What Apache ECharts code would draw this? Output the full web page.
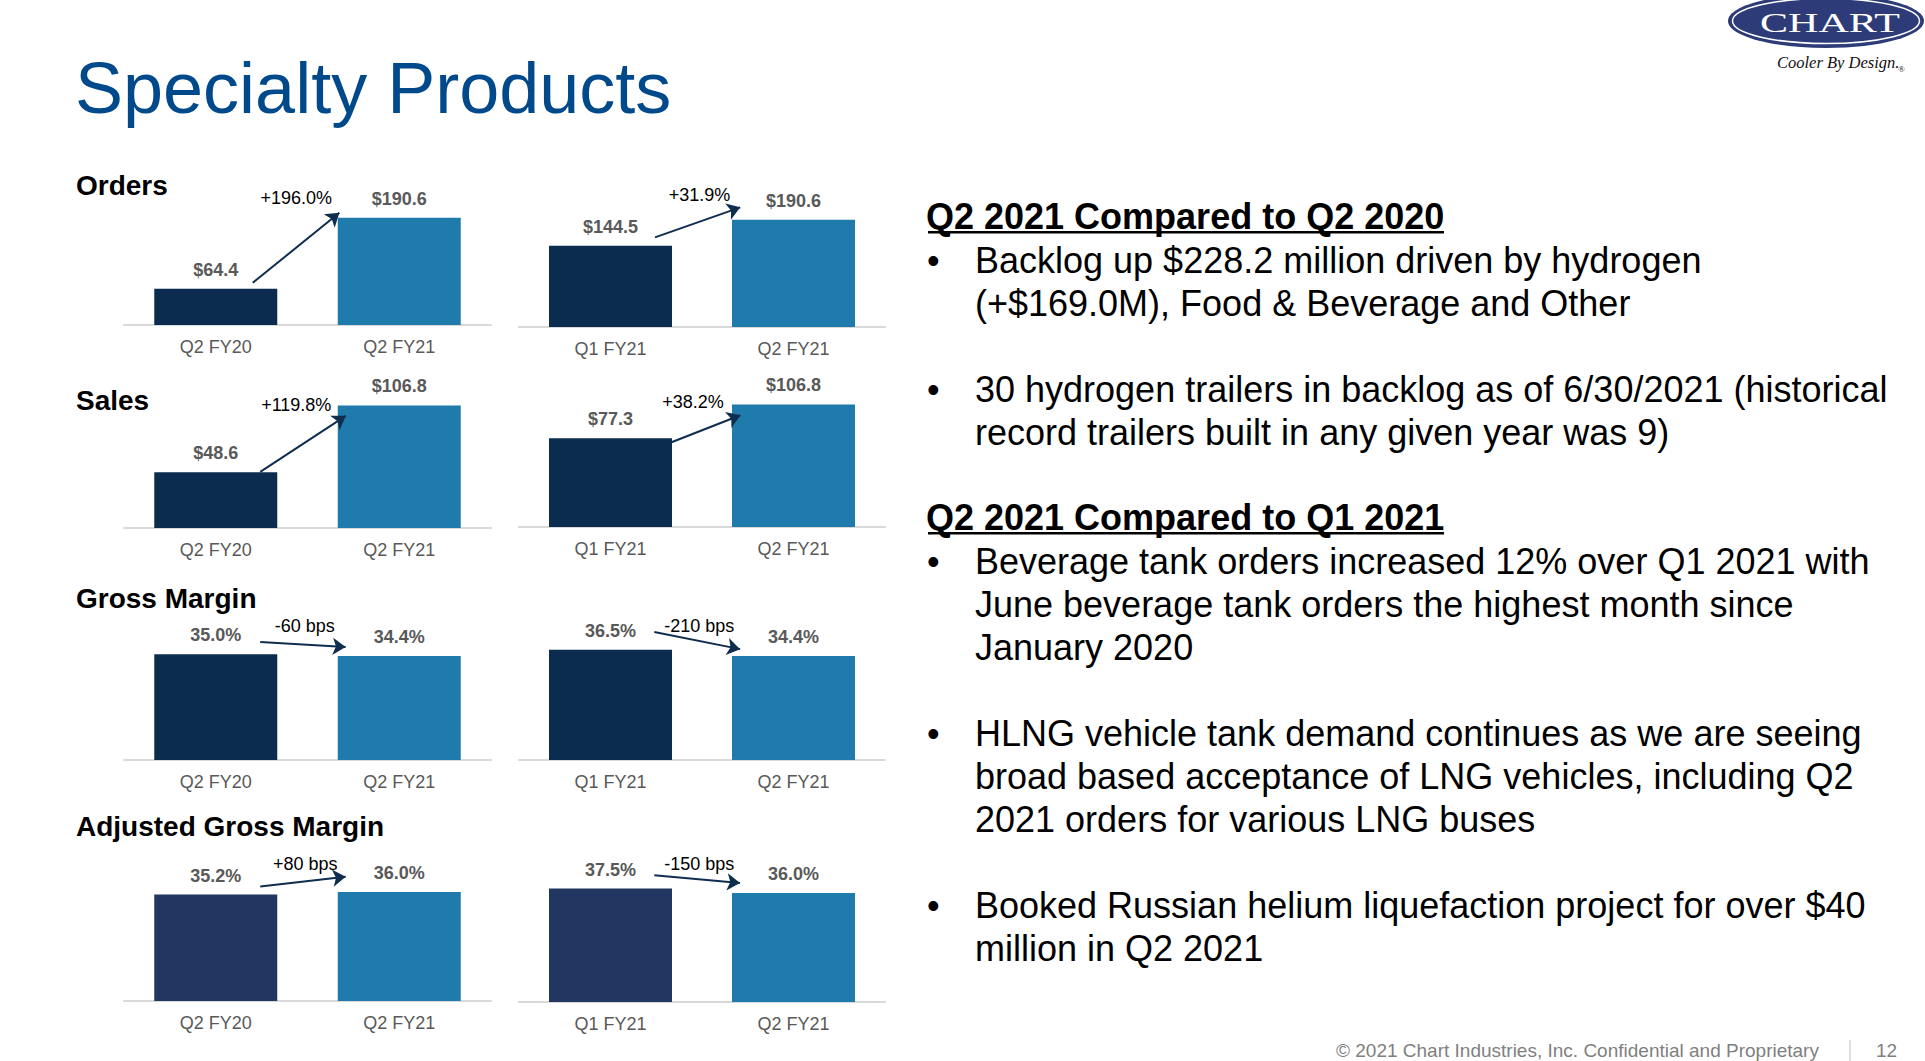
<!DOCTYPE html>
<html>
<head>
<meta charset="utf-8">
<script src="https://cdn.jsdelivr.net/npm/echarts@6/dist/echarts.min.js"></script>
<style>
html,body{margin:0;padding:0;background:#ffffff;}
#chart{width:1925px;height:1061px;}
</style>
</head>
<body>
<div id="chart"></div>
<script>
// ---------------- DATA ----------------
const categoriesYoY = ['Q2 FY20', 'Q2 FY21'];
const categoriesQoQ = ['Q1 FY21', 'Q2 FY21'];
const ordersYoY = [64.4, 190.6];
const ordersQoQ = [144.5, 190.6];
const salesYoY = [48.6, 106.8];
const salesQoQ = [77.3, 106.8];
const grossMarginYoY = [35.0, 34.4];
const grossMarginQoQ = [36.5, 34.4];
const adjGrossMarginYoY = [35.2, 36.0];
const adjGrossMarginQoQ = [37.5, 36.0];
const changeLabels = ['+196.0%', '+31.9%', '+119.8%', '+38.2%', '-60 bps', '-210 bps', '+80 bps', '-150 bps'];
const sectionTitles = ['Orders', 'Sales', 'Gross Margin', 'Adjusted Gross Margin'];
const pageTitle = 'Specialty Products';
const commentary = [
  ['h', 'Q2 2021 Compared to Q2 2020'],
  ['b', 'Backlog up $228.2 million driven by hydrogen'],
  ['c', '(+$169.0M), Food & Beverage and Other'],
  ['b', '30 hydrogen trailers in backlog as of 6/30/2021 (historical'],
  ['c', 'record trailers built in any given year was 9)'],
  ['h', 'Q2 2021 Compared to Q1 2021'],
  ['b', 'Beverage tank orders increased 12% over Q1 2021 with'],
  ['c', 'June beverage tank orders the highest month since'],
  ['c', 'January 2020'],
  ['b', 'HLNG vehicle tank demand continues as we are seeing'],
  ['c', 'broad based acceptance of LNG vehicles, including Q2'],
  ['c', '2021 orders for various LNG buses'],
  ['b', 'Booked Russian helium liquefaction project for over $40'],
  ['c', 'million in Q2 2021']
];
const footerText = '\u00A9 2021 Chart Industries, Inc. Confidential and Proprietary';
const pageNumber = '12';

// ---------------- LAYOUT / STYLE ----------------
const SANS = "'Liberation Sans', Arial, Helvetica, sans-serif";
const SERIF = "'Liberation Serif', 'Times New Roman', serif";
const DARK = '#0b2c4f', LIGHT = '#1f7bac', ADJ_DARK = '#213761', ARROW = '#0e2d4f';
// arrow layout in px offsets: [startDx from left bar centre, startDy above left bar top,
//   endDx from right bar centre, endDy above right bar top, labelDx, labelDy (rel. right bar)]
const panels = [
  {cats: categoriesYoY, vals: ordersYoY, fmt: 'money', chg: changeLabels[0], left: 124, width: 367, axisY: 325, max: 250, scale: 0.563, dark: DARK, arrow: [37, 6, -56, 8, -103, 20]},
  {cats: categoriesQoQ, vals: ordersQoQ, fmt: 'money', chg: changeLabels[1], left: 519, width: 366, axisY: 327, max: 250, scale: 0.563, dark: DARK, arrow: [44.5, 8.3, -48.5, 14, -94, 25]},
  {cats: categoriesYoY, vals: salesYoY, fmt: 'money', chg: changeLabels[2], left: 124, width: 367, axisY: 528, max: 130, scale: 1.148, dark: DARK, arrow: [44.5, 0.3, -49.3, -7.7, -103, 0]},
  {cats: categoriesQoQ, vals: salesQoQ, fmt: 'money', chg: changeLabels[3], left: 519, width: 366, axisY: 527, max: 130, scale: 1.148, dark: DARK, arrow: [61, -4, -48.5, -9, -100.5, 2.6]},
  {cats: categoriesYoY, vals: grossMarginYoY, fmt: 'pct', chg: changeLabels[4], left: 124, width: 367, axisY: 760, max: 50, scale: 3.02, dark: DARK, arrow: [44.5, 12.3, -48.6, 8.7, -94.6, 30]},
  {cats: categoriesQoQ, vals: grossMarginQoQ, fmt: 'pct', chg: changeLabels[5], left: 519, width: 366, axisY: 760, max: 50, scale: 3.02, dark: DARK, arrow: [43.8, 17.7, -48.5, 6, -94.2, 30.3]},
  {cats: categoriesYoY, vals: adjGrossMarginYoY, fmt: 'pct', chg: changeLabels[6], left: 124, width: 367, axisY: 1001, max: 50, scale: 3.025, dark: ADJ_DARK, arrow: [44.5, 8, -48.6, 16, -94, 27.7]},
  {cats: categoriesQoQ, vals: adjGrossMarginQoQ, fmt: 'pct', chg: changeLabels[7], left: 519, width: 366, axisY: 1002, max: 50, scale: 3.025, dark: ADJ_DARK, arrow: [43.8, 13.3, -48.5, 9.7, -94.2, 29]}
];
const sectionTitleY = [185, 400, 598, 826];

// ---------------- BUILD OPTION ----------------
const grid = [], xAxis = [], yAxis = [], series = [];
panels.forEach((p, i) => {
  const h = p.max * p.scale;
  grid.push({left: p.left, width: p.width, top: p.axisY - h, height: h, containLabel: false});
  xAxis.push({
    type: 'category', gridIndex: i, data: p.cats, position: 'bottom',
    axisLine: {show: true, lineStyle: {color: '#d9d9d9', width: 2}},
    axisTick: {show: false},
    axisLabel: {interval: 0, margin: 13, color: '#595959', fontSize: 18, fontFamily: SANS}
  });
  xAxis.push({type: 'value', gridIndex: i, min: 0, max: 2, show: false});
  yAxis.push({type: 'value', gridIndex: i, min: 0, max: p.max, show: false, splitLine: {show: false}});

  series.push({
    type: 'bar', xAxisIndex: 2 * i, yAxisIndex: i, barWidth: 123, animation: false, silent: true,
    data: p.vals.map((v, j) => ({value: v, itemStyle: {color: j === 0 ? p.dark : LIGHT}})),
    label: {
      show: true, position: 'top', distance: 10, color: '#595959', fontSize: 18, fontWeight: 'bold', fontFamily: SANS,
      formatter: (o) => p.fmt === 'money' ? '$' + o.value.toFixed(1) : o.value.toFixed(1) + '%'
    }
  });

  // arrow + change label, anchored to the bars' values
  const band = p.width / 2;
  const [sdx, sdy, edx, edy, ldx, ldy] = p.arrow;
  const xs = 0.5 + sdx / band, ys = p.vals[0] + sdy / p.scale;
  let xe = 1.5 + edx / band, ye = p.vals[1] + edy / p.scale;
  const dxp = (xe - xs) * band, dyp = (ye - ys) * p.scale, len = Math.hypot(dxp, dyp);
  const pull = 5;
  xe -= pull * dxp / len / band; ye -= pull * dyp / len / p.scale;
  series.push({
    type: 'line', xAxisIndex: 2 * i + 1, yAxisIndex: i, data: [], animation: false, silent: true,
    markLine: {
      silent: true, animation: false, symbol: ['none', 'arrow'], symbolSize: 13,
      lineStyle: {color: ARROW, width: 2, type: 'solid'},
      itemStyle: {color: ARROW},
      label: {show: false},
      data: [[{coord: [xs, ys]}, {coord: [xe, ye]}]]
    },
    markPoint: {
      silent: true, animation: false, symbol: 'circle', symbolSize: 1,
      itemStyle: {color: 'rgba(0,0,0,0)'},
      label: {show: true, position: 'inside', formatter: '{b}', color: '#000000', fontSize: 18, fontFamily: SANS},
      data: [{name: p.chg, coord: [1.5 + ldx / band, p.vals[1] + ldy / p.scale]}]
    }
  });
});

// ---------------- STATIC TEXT (graphic) ----------------
function txt(x, y, text, st) {
  return {type: 'text', x: x, y: y, silent: true,
    style: Object.assign({text: text, fill: '#000000', fontFamily: SANS, fontSize: 36, align: 'left', verticalAlign: 'middle'}, st || {})};
}
const graphic = [];
graphic.push(txt(75, 88, pageTitle, {fontSize: 72, fill: '#004a8c'}));
sectionTitles.forEach((t, k) => graphic.push(txt(76, sectionTitleY[k], t, {fontSize: 28, fontWeight: 'bold'})));

const lineY = [216, 260, 303, 389, 432, 517, 561, 604, 647, 733, 776, 819, 905, 948];
commentary.forEach((c, k) => {
  const y = lineY[k];
  if (c[0] === 'h') {
    graphic.push(txt(926, y, c[1], {fontWeight: 'bold'}));
    graphic.push({type: 'rect', silent: true, shape: {x: 928, y: y + 15, width: 516, height: 2.5}, style: {fill: '#000000'}});
  } else {
    if (c[0] === 'b') graphic.push(txt(927, y, '\u2022', {}));
    graphic.push(txt(975, y, c[1], {}));
  }
});

// footer
graphic.push(txt(1336, 1050, footerText, {fontSize: 19, fill: '#7f7f7f'}));
graphic.push({type: 'line', silent: true, shape: {x1: 1850, y1: 1040, x2: 1850, y2: 1061}, style: {stroke: '#bfbfbf', lineWidth: 1}});
graphic.push(txt(1876, 1050, pageNumber, {fontSize: 19, fill: '#7f7f7f'}));

// logo
graphic.push({type: 'ellipse', silent: true, shape: {cx: 1826, cy: 21, rx: 98, ry: 27}, style: {fill: '#2d3c78'}});
graphic.push({type: 'ellipse', silent: true, shape: {cx: 1826, cy: 21, rx: 93.5, ry: 22.5}, style: {fill: 'none', stroke: '#ffffff', lineWidth: 1.5}});
graphic.push({type: 'text', silent: true, x: 1830, y: 23, scaleX: 1.5,
  style: {text: 'CHART', fill: '#ffffff', fontFamily: SERIF, fontSize: 28, align: 'center', verticalAlign: 'middle'}});
graphic.push(txt(1777, 62, 'Cooler By Design.', {fontFamily: SERIF, fontStyle: 'italic', fontSize: 16.5, fill: '#111111'}));
graphic.push(txt(1898, 69, '\u00AE', {fontFamily: SERIF, fontSize: 9, fill: '#111111'}));

const option = {
  backgroundColor: '#ffffff',
  animation: false,
  grid: grid, xAxis: xAxis, yAxis: yAxis, series: series,
  graphic: graphic
};
const chart = echarts.init(document.getElementById('chart'), null, {renderer: 'svg'});
chart.setOption(option);
</script>
</body>
</html>
